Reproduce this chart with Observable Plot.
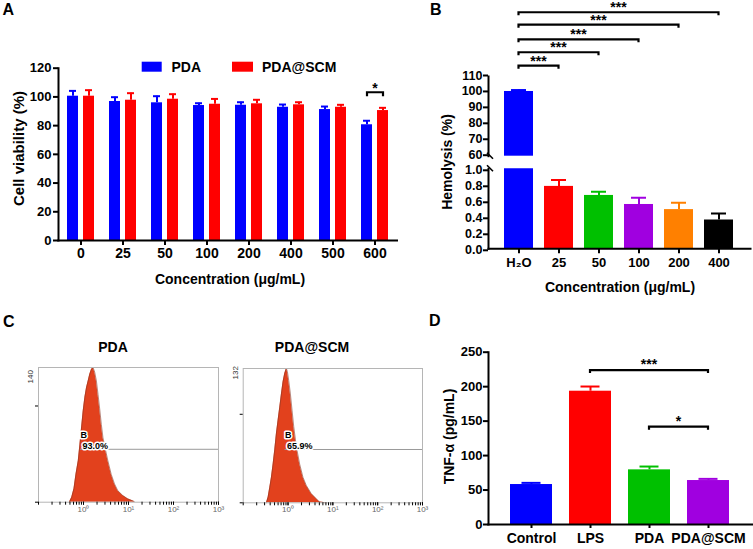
<!DOCTYPE html>
<html><head><meta charset="utf-8">
<script src="https://cdn.jsdelivr.net/npm/d3@7"></script>
<script src="https://cdn.jsdelivr.net/npm/@observablehq/plot@0.6"></script>
<style>
body{margin:0;background:#fff;}
#root{position:relative;width:753px;height:549px;overflow:hidden;background:#fff;}
#root svg{position:absolute;overflow:visible;}
</style></head><body><div id="root"></div>
<script>
// ---------- DATA ----------
// Panel A: cell viability
const concA = ["0", "25", "50", "100", "200", "400", "500", "600"];
const pdaA = [100.5, 96.8, 95.9, 94.0, 94.2, 92.8, 91.2, 80.6];
const pdaErrA = [3.7, 3.0, 4.6, 1.6, 2.1, 1.9, 2.1, 2.8];
const scmA = [100.5, 97.7, 98.4, 94.9, 95.2, 94.5, 92.8, 90.5];
const scmErrA = [4.2, 4.9, 3.5, 3.7, 2.8, 1.8, 1.7, 1.9];
const yTicksA = [0, 20, 40, 60, 80, 100, 120];
const seriesA = ["PDA", "PDA@SCM"];
const sigA = [{from: "600", to: "600", y: 102.9, label: "*"}];

// Panel B: hemolysis (broken axis)
const catsB = ["H₂O", "25", "50", "100", "200", "400"];
const hemo = [100.6, 0.78, 0.667, 0.554, 0.49, 0.36];
const hemoErr = [0.9, 0.08, 0.045, 0.085, 0.085, 0.08];
const colorsB = ["#0000ff", "#ff0000", "#00c000", "#a000e0", "#ff8000", "#000000"];
const yTicksBUpper = [60, 70, 80, 90, 100, 110];
const yTicksBLower = [0, 0.2, 0.4, 0.6, 0.8, 1.0];
const sigToB = ["25", "50", "100", "200", "400"];
const sigLevelB = [116.5, 124.9, 133, 142.2, 150];

// Panel C: flow cytometry histograms
const histPDAx = [0.486,0.547,0.615,0.681,0.766,0.834,0.908,0.986,1.074,1.167,1.271,1.380,1.503,1.633,1.778,1.936,2.104,2.291,2.489,2.710,3.097,3.483,4.130,4.887,5.781,7.430,9.572,13.40];
const histPDAy = [0,5,14,29,43,60,78,95,109,119,126,133,138,140,135,126,112,97,81,67,54,43,29,19,12,7,3.5,0.7];
const histSCMx = [0.330,0.360,0.392,0.427,0.465,0.506,0.551,0.600,0.655,0.713,0.776,0.845,0.920,0.968,1.038,1.130,1.230,1.340,1.535,1.820,2.158,2.559,3.304,4.266,5.058,7.129];
const histSCMy = [0,5.5,15,25,38,52,68,81,94,107,119,127,132,129,120,107,91,75,55,38,25,17,9,4,0.7,0];
const histTitles = ["PDA", "PDA@SCM"];
const histMax = [140, 132];
const histYTicks = [[0, 100], [0, 87]];
const gateStart = 0.86;
const gateLevel = [55, 52.4];
const gatePct = ["93.0%", "65.9%"];
const majorTicksC = [1, 10, 100, 1000];
const majorLabelsC = ["10⁰", "10¹", "10²", "10³"];

// Panel D: TNF-alpha
const catsD = ["Control", "LPS", "PDA", "PDA@SCM"];
const tnf = [58, 193.4, 79.3, 63.8];
const tnfErr = [2.4, 6.8, 4.8, 2.4];
const colorsD = ["#0000ff", "#ff0000", "#00c000", "#a000e0"];
const yTicksD = [0, 50, 100, 150, 200, 250];
const sigD = [{from: "LPS", to: "PDA@SCM", y: 223.4, label: "***"}, {from: "PDA", to: "PDA@SCM", y: 141.2, label: "*"}];

// ---------- HELPERS ----------
const FONT = '"Liberation Sans", Arial, sans-serif';
const BLUE = "#0000ff", RED = "#ff0000", HIST = "#e2411d";
const root = document.getElementById("root");
const baseStyle = {fontFamily: FONT, fontWeight: "bold", fontSize: "13px", background: "transparent", overflow: "visible", color: "#000"};

function place(node, left, top) {
  node.style.left = left + "px";
  node.style.top = top + "px";
  root.appendChild(node);
  return node;
}

function drawBrackets(plot, items, {tick = 3, fontSize = 14, textDy = 0} = {}) {
  const sx = plot.scale("x"), sy = plot.scale("y");
  const half = sx.bandwidth / 2;
  const g = d3.select(plot).append("g");
  for (const b of items) {
    const x1 = sx.apply(b.from) + (b.fromOffset ?? half);
    const x2 = sx.apply(b.to) + (b.toOffset ?? half);
    const y = sy.apply(b.y);
    g.append("path").attr("d", `M${x1},${y + tick}V${y}H${x2}V${y + tick}`)
      .attr("fill", "none").attr("stroke", "#000").attr("stroke-width", 2.2);
    g.append("text").attr("x", (x1 + x2) / 2).attr("y", y + textDy)
      .attr("text-anchor", "middle").attr("font-size", fontSize).attr("font-weight", "bold")
      .attr("font-family", FONT).attr("fill", "#000").text(b.label);
  }
}

function breakMark(plot, value) {
  const sx = plot.scale("x"), sy = plot.scale("y");
  const x0 = sx.range[0], y0 = sy.apply(value);
  d3.select(plot).append("line")
    .attr("x1", x0 - 1).attr("y1", y0 - 3).attr("x2", x0 + 5).attr("y2", y0 + 3)
    .attr("stroke", "#000").attr("stroke-width", 1.6);
}

// ---------- PANEL A ----------
const dataA = concA.map((c, i) => ({c, pda: pdaA[i], pdaHi: pdaA[i] + pdaErrA[i], scm: scmA[i], scmHi: scmA[i] + scmErrA[i]}));
const plotA = Plot.plot({
  width: 400, height: 290,
  marginLeft: 58, marginRight: 3.5, marginTop: 67.7, marginBottom: 50,
  style: baseStyle,
  x: {type: "band", domain: concA, paddingInner: 0.348, paddingOuter: 0.1165},
  y: {domain: [0, 120]},
  marks: [
    Plot.barY(dataA, {x: "c", y: "pda", fill: BLUE, insetRight: 16}),
    Plot.barY(dataA, {x: "c", y: "scm", fill: RED, insetLeft: 16}),
    Plot.ruleX(dataA, {x: "c", y1: "pda", y2: "pdaHi", stroke: BLUE, strokeWidth: 2, dx: -8}),
    Plot.tickY(dataA, {x: "c", y: "pdaHi", stroke: BLUE, strokeWidth: 2, insetLeft: 2, insetRight: 18}),
    Plot.ruleX(dataA, {x: "c", y1: "scm", y2: "scmHi", stroke: RED, strokeWidth: 2, dx: 8}),
    Plot.tickY(dataA, {x: "c", y: "scmHi", stroke: RED, strokeWidth: 2, insetLeft: 18, insetRight: 2}),
    Plot.frame({anchor: "left", strokeWidth: 2}),
    Plot.frame({anchor: "bottom", strokeWidth: 2}),
    Plot.axisY({ticks: yTicksA, tickSize: 5, tickPadding: 2, strokeWidth: 2, fontSize: 13, label: null}),
    Plot.axisX({tickSize: 5, tickPadding: 3, strokeWidth: 2, fontSize: 14, label: null})
  ]
});
place(plotA, 0, 0);
drawBrackets(plotA, sigA.map(s => ({...s, fromOffset: 6, toOffset: 22})), {tick: 4, fontSize: 14, textDy: 1});

// ---------- PANEL B ----------
const dataB = catsB.map((c, i) => ({c, v: hemo[i], hi: hemo[i] + hemoErr[i], color: colorsB[i]}));
const upperB = dataB.filter(d => d.v > 60);
const xB = {type: "band", domain: catsB, paddingInner: 0.265, paddingOuter: 0.343};
const plotBU = Plot.plot({
  width: 353, height: 160,
  marginLeft: 88, marginRight: 3, marginTop: 76, marginBottom: 4.3,
  style: baseStyle,
  x: {...xB, axis: null},
  y: {domain: [60, 110]},
  color: {type: "identity"},
  marks: [
    Plot.barY(upperB, {x: "c", y1: 60, y2: "v", fill: "color"}),
    Plot.ruleX(upperB, {x: "c", y1: "v", y2: "hi", stroke: "color", strokeWidth: 2}),
    Plot.tickY(upperB, {x: "c", y: "hi", stroke: "color", strokeWidth: 2, insetLeft: 7, insetRight: 7}),
    Plot.frame({anchor: "left", strokeWidth: 2}),
    Plot.axisY({ticks: yTicksBUpper, tickSize: 5, tickPadding: 1, strokeWidth: 2, fontSize: 12.5, dy: -1, label: null})
  ]
});
place(plotBU, 400, 0);
drawBrackets(plotBU, sigToB.map((t, i) => ({from: catsB[0], to: t, y: sigLevelB[i], label: "***"})), {tick: 3, fontSize: 14, textDy: 0});
breakMark(plotBU, 60);

const plotBL = Plot.plot({
  width: 353, height: 130,
  marginLeft: 88, marginRight: 3, marginTop: 8.3, marginBottom: 41.7,
  style: baseStyle,
  x: xB,
  y: {domain: [0, 1]},
  color: {type: "identity"},
  marks: [
    Plot.barY(dataB, {x: "c", y: "v", fill: "color", clip: true}),
    Plot.ruleX(dataB, {x: "c", y1: "v", y2: "hi", stroke: "color", strokeWidth: 2, clip: true}),
    Plot.tickY(dataB, {x: "c", y: "hi", stroke: "color", strokeWidth: 2, insetLeft: 7, insetRight: 7, clip: true}),
    Plot.frame({anchor: "left", strokeWidth: 2}),
    Plot.frame({anchor: "bottom", strokeWidth: 2}),
    Plot.axisY({ticks: yTicksBLower, tickFormat: d3.format(".1f"), tickSize: 5, tickPadding: 1, strokeWidth: 2, fontSize: 12.5, dy: 1.5, label: null}),
    Plot.axisX({tickSize: 5, tickPadding: 4, strokeWidth: 2, fontSize: 13, label: null})
  ]
});
place(plotBL, 400, 160);
breakMark(plotBL, 1);

// ---------- PANEL C ----------
const minorTicksC = [];
for (const e of [-1, 0, 1, 2]) for (let k = 1; k <= 9; k++) minorTicksC.push(k * Math.pow(10, e));
minorTicksC.push(1000);

function histPlot(xs, ys, idx, dims) {
  const data = xs.map((x, i) => ({x, y: ys[i]}));
  return Plot.plot({
    width: dims.width, height: 249,
    marginLeft: dims.ml, marginRight: dims.mr, marginTop: dims.mt, marginBottom: dims.mb,
    style: {...baseStyle, fontWeight: "normal"},
    x: {type: "log", domain: [0.1, 1000]},
    y: {domain: [0, histMax[idx]]},
    marks: [
      Plot.areaY(data, {x: "x", y: "y", fill: HIST}),
      Plot.lineY(data, {x: "x", y: "y", stroke: "#8c3a28", strokeWidth: 0.6}),
      Plot.frame({stroke: "#b5b5b5"}),
      Plot.ruleY([gateLevel[idx]], {x1: gateStart, x2: 1000, stroke: "#999"}),
      Plot.text(["B"], {x: gateStart, y: gateLevel[idx], text: d => d, textAnchor: "start", lineAnchor: "bottom", dy: -11, fontSize: 9, fontWeight: "bold", fill: "#000", stroke: "white", strokeWidth: 3, paintOrder: "stroke"}),
      Plot.text([gatePct[idx]], {x: gateStart, y: gateLevel[idx], text: d => d, textAnchor: "start", lineAnchor: "bottom", dx: 2, dy: 0, fontSize: 9, fontWeight: "bold", fill: "#000", stroke: "white", strokeWidth: 3, paintOrder: "stroke"}),
      Plot.axisX({ticks: minorTicksC, tickSize: 3, tickFormat: () => "", strokeWidth: 1, label: null}),
      Plot.axisX({ticks: majorTicksC, tickSize: 3, tickPadding: 1, tickFormat: d => majorLabelsC[majorTicksC.indexOf(d)], fontSize: 8, fill: "#666", strokeWidth: 1, label: null}),
      Plot.axisY({ticks: histYTicks[idx], tickSize: 3, tickFormat: () => "", strokeWidth: 1, label: null}),
      Plot.text([String(histMax[idx])], {frameAnchor: "top-left", text: d => d, rotate: -90, dx: -11, dy: dims.labDy, fontSize: 8, fill: "#333"})
    ]
  });
}
place(histPlot(histPDAx, histPDAy, 0, {width: 230, ml: 38, mr: 12, mt: 67, mb: 47.3, labDy: 16}), 0, 300);
place(histPlot(histSCMx, histSCMy, 1, {width: 200, ml: 12.7, mr: 8, mt: 68, mb: 46.7, labDy: 11}), 230, 300);

// ---------- PANEL D ----------
const dataD = catsD.map((c, i) => ({c, v: tnf[i], hi: tnf[i] + tnfErr[i], color: colorsD[i]}));
const plotD = Plot.plot({
  width: 353, height: 249,
  marginLeft: 88, marginRight: 1, marginTop: 51.7, marginBottom: 25,
  style: baseStyle,
  x: {type: "band", domain: catsD, paddingInner: 0.283, paddingOuter: 0.342},
  y: {domain: [0, 250]},
  color: {type: "identity"},
  marks: [
    Plot.barY(dataD, {x: "c", y: "v", fill: "color"}),
    Plot.ruleX(dataD, {x: "c", y1: "v", y2: "hi", stroke: "color", strokeWidth: 2}),
    Plot.tickY(dataD, {x: "c", y: "hi", stroke: "color", strokeWidth: 2, insetLeft: 11.5, insetRight: 11.5}),
    Plot.frame({anchor: "left", strokeWidth: 2}),
    Plot.frame({anchor: "bottom", strokeWidth: 2}),
    Plot.axisY({ticks: yTicksD, tickSize: 5, tickPadding: 1, strokeWidth: 2, fontSize: 13, label: null}),
    Plot.axisX({tickSize: 4, tickPadding: 5, strokeWidth: 2, fontSize: 14, label: null})
  ]
});
place(plotD, 400, 300);
drawBrackets(plotD, sigD, {tick: 3, fontSize: 14, textDy: -1});

// ---------- TEXT OVERLAY (panel letters, titles, legend) ----------
const ov = d3.select(root).append("svg").attr("width", 753).attr("height", 549)
  .style("left", "0px").style("top", "0px").style("pointer-events", "none")
  .attr("font-family", FONT).attr("font-weight", "bold").attr("fill", "#000");
function txt(s, x, y, size, anchor = "start", rot = 0) {
  const t = ov.append("text").attr("x", x).attr("y", y).attr("font-size", size).attr("text-anchor", anchor).text(s);
  if (rot) t.attr("transform", `rotate(${rot},${x},${y})`);
  return t;
}
txt("A", 2.5, 15, 16);
txt("B", 430, 15, 16);
txt("C", 3, 327, 16);
txt("D", 429, 326, 16);
// legend A
ov.append("rect").attr("x", 141.7).attr("y", 61.7).attr("width", 20).attr("height", 10).attr("fill", BLUE);
txt(seriesA[0], 171.5, 71.5, 14);
ov.append("rect").attr("x", 232).attr("y", 61.7).attr("width", 21).attr("height", 10).attr("fill", RED);
txt(seriesA[1], 262, 71.5, 14);
// axis titles
txt("Cell viability (%)", 24, 148.5, 15, "middle", -90);
txt("Concentration (μg/mL)", 230, 283.5, 14, "middle");
txt("Hemolysis (%)", 452, 162, 14, "middle", -90);
txt("Concentration (μg/mL)", 620, 292, 14, "middle");
txt("TNF-α (pg/mL)", 454, 436.5, 14, "middle", -90);
// histogram titles
txt(histTitles[0], 113, 352.3, 14, "middle");
txt(histTitles[1], 312, 352.3, 14, "middle");
</script>
</body></html>
